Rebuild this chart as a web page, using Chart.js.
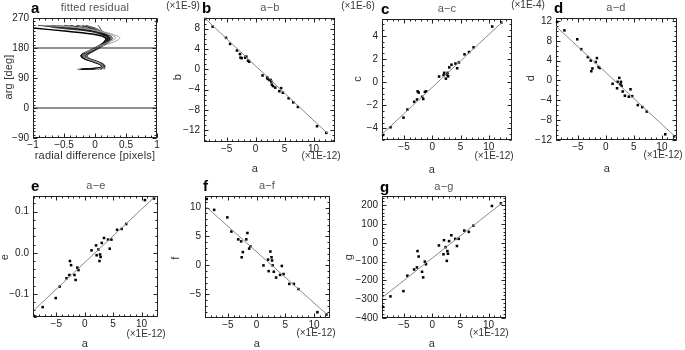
<!DOCTYPE html>
<html>
<head>
<meta charset="utf-8">
<script src="https://cdn.jsdelivr.net/npm/chart.js@4"></script>
<style>
  html, body { margin: 0; padding: 0; background: #fff; }
  #figure { position: relative; width: 685px; height: 350px; overflow: hidden;
    font-family: "Liberation Sans", Arial, sans-serif; color: #333; }
  #figure canvas { position: absolute; z-index: 1; }
  .lbl { position: absolute; z-index: 2; white-space: nowrap; line-height: 1;
    font-size: 11px; letter-spacing: 0.2px; transform: translate(-50%, -50%); }
  .title { color: #555; }
  .rot { transform: translate(-50%, -50%) rotate(-90deg); }
  .mult { font-size: 10px; letter-spacing: 0; }
  .letter { position: absolute; z-index: 2; line-height: 1; font-size: 15px;
    font-weight: bold; color: #000; transform: translateY(-50%); }
</style>
</head>
<body>
<div id="figure">
  <div class="letter" style="left:31px; top:7px">a</div>
  <div class="lbl title" style="left:95px; top:7px">fitted residual</div>
  <div class="lbl rot" style="left:8px; top:77px">arg [deg]</div>
  <div class="lbl" style="left:95px; top:155px">radial difference [pixels]</div>

  <div class="letter" style="left:202px; top:7px">b</div>
  <div class="lbl title" style="left:270px; top:7px">a−b</div>
  <div class="lbl mult" style="left:183px; top:6px">(×1E-9)</div>
  <div class="lbl rot" style="left:177px; top:77px">b</div>
  <div class="lbl" style="left:255px; top:168px">a</div>
  <div class="lbl mult" style="left:321px; top:156px">(×1E-12)</div>

  <div class="letter" style="left:381px; top:8px">c</div>
  <div class="lbl title" style="left:447px; top:8px">a−c</div>
  <div class="lbl mult" style="left:358px; top:6px">(×1E-6)</div>
  <div class="lbl rot" style="left:357px; top:79px">c</div>
  <div class="lbl" style="left:432px; top:169px">a</div>
  <div class="lbl mult" style="left:494px; top:156px">(×1E-12)</div>

  <div class="letter" style="left:554px; top:7px">d</div>
  <div class="lbl title" style="left:616px; top:7px">a−d</div>
  <div class="lbl mult" style="left:528px; top:5px">(×1E-4)</div>
  <div class="lbl rot" style="left:530px; top:78px">d</div>
  <div class="lbl" style="left:607px; top:168px">a</div>
  <div class="lbl mult" style="left:663px; top:155px">(×1E-12)</div>

  <div class="letter" style="left:31px; top:185px">e</div>
  <div class="lbl title" style="left:96px; top:185px">a−e</div>
  <div class="lbl rot" style="left:4px; top:257px">e</div>
  <div class="lbl" style="left:85px; top:343px">a</div>
  <div class="lbl mult" style="left:146px; top:334px">(×1E-12)</div>

  <div class="letter" style="left:203px; top:185px">f</div>
  <div class="lbl title" style="left:267px; top:185px">a−f</div>
  <div class="lbl rot" style="left:175px; top:258px">f</div>
  <div class="lbl" style="left:257px; top:343px">a</div>
  <div class="lbl mult" style="left:316px; top:333px">(×1E-12)</div>

  <div class="letter" style="left:380px; top:186px">g</div>
  <div class="lbl title" style="left:444px; top:186px">a−g</div>
  <div class="lbl rot" style="left:348px; top:257px">g</div>
  <div class="lbl" style="left:432px; top:343px">a</div>
  <div class="lbl mult" style="left:489px; top:333px">(×1E-12)</div>
</div>

<script>
//
// Data
//

// panel a: residual curves, radial difference sampled at fixed args
const ARG_LEVELS = [248, 240, 230, 220, 210, 198, 185, 170, 158, 150, 140, 130, 122, 116];
const RESIDUAL_CURVES = [
  [-0.92, -0.5, -0.05, 0.12, 0.2, 0.16, 0.06, -0.1, -0.2, -0.18, -0.04, 0.1, 0.12, -0.28],
  [-0.7, -0.3, 0.02, 0.15, 0.22, 0.18, 0.08, -0.08, -0.18, -0.16, -0.02, 0.12, 0.13, -0.15],
  [-0.5, -0.15, 0.05, 0.17, 0.24, 0.2, 0.1, -0.06, -0.16, -0.14, 0.0, 0.13, 0.14, -0.02],
  [-0.3, -0.05, 0.08, 0.19, 0.26, 0.21, 0.11, -0.04, -0.14, -0.12, 0.02, 0.14, 0.15, 0.08],
  [-0.85, -0.6, -0.1, 0.1, 0.18, 0.14, 0.04, -0.12, -0.23, -0.2, -0.06, 0.08, 0.1, -0.2],
  [-0.6, -0.35, -0.02, 0.13, 0.21, 0.17, 0.07, -0.09, -0.21, -0.19, -0.05, 0.09, 0.11, -0.1],
  [-0.15, 0.0, 0.1, 0.16, 0.2, 0.15, 0.05, -0.1, -0.19, -0.15, -0.02, 0.11, 0.12, 0.05],
  [0.05, 0.08, 0.12, 0.22, 0.28, 0.23, 0.12, -0.02, -0.12, -0.1, 0.04, 0.15, 0.16, 0.15],
  [-0.78, -0.45, 0.0, 0.14, 0.21, 0.17, 0.06, -0.1, -0.2, -0.17, -0.03, 0.1, 0.12, -0.24],
  [-0.4, -0.2, 0.04, 0.15, 0.23, 0.19, 0.09, -0.07, -0.17, -0.15, -0.01, 0.12, 0.13, -0.06],
  [-0.2, -0.08, 0.06, 0.16, 0.24, 0.2, 0.1, -0.05, -0.15, -0.13, 0.01, 0.13, 0.14, 0.1],
];
const RESIDUAL_LONG_CURVE = [null, -1.0, -0.45, 0.02, 0.17, 0.15, 0.05, -0.11, -0.22, -0.19, -0.05, 0.09, 0.11, -0.22];
const RESIDUAL_GRAY_CURVES = [
  [-0.6, -0.25, 0.1, 0.3, 0.4, 0.3, 0.1, -0.08, -0.17, -0.14, 0.0, 0.12, 0.13, 0.12],
  [-0.85, -0.2, 0.05, 0.25, 0.33, 0.22, 0.05, -0.12, -0.2, -0.16, -0.02, 0.1, 0.12, 0.0],
];
const REFERENCE_ARGS = [0, 180];
const RADIAL_RANGE = [-1, 1];
const RADIAL_TICKS = [-1, -0.5, 0, 0.5, 1];
const ARG_TICKS = [-90, 0, 90, 180, 270];

// panels b-g: parameter a (x1E-12) against the others
const A_VALUES = [-8.7, -7.4, -5.1, -4.4, -3.2, -2.7, -2.6, -2.4, -1.8, -1.6, -1.3, -1.1,
  1.2, 2.0, 2.1, 2.4, 2.6, 2.7, 2.8, 3.0, 3.4, 4.1, 4.4, 4.7, 5.7, 6.5, 7.3, 10.6, 12.2];
const B_VALUES = [9.9, 8.4, 6.2, 5.0, 3.7, 3.0, 2.3, 2.2, 2.3, 2.5, 1.7, 1.5,
  -1.2, -1.6, -1.9, -2.1, -2.1, -2.4, -3.0, -3.3, -3.6, -4.3, -3.7, -4.6, -5.7, -6.5, -7.4, -11.2, -12.5];
const C_VALUES = [-4.56, -3.9, -3.07, -2.37, -1.7, -1.5, -0.8, -0.9, -1.27, -1.46, -0.85, -0.8,
  0.48, 0.6, 0.8, 0.3, 0.65, 0.8, 0.5, 1.27, 1.5, 1.6, 1.2, 1.7, 2.4, 2.6, 3.0, 4.8, 5.15];
const D_VALUES = [11.8, 10.1, 8.3, 6.3, 4.7, 4.0, 1.85, 2.4, 3.7, 4.5, 2.7, 2.5,
  -0.7, -1.6, -0.3, 0.5, -0.8, -0.3, -1.1, -2.25, -3.1, -3.3, -1.8, -3.2, -5.0, -5.4, -6.3, -10.9, -11.3];
const E_VALUES = [-0.155, -0.132, -0.11, -0.082, -0.062, -0.054, -0.02, -0.03, -0.054, -0.066, -0.036, -0.042,
  0.006, 0.018, -0.006, 0.008, -0.02, -0.004, -0.01, 0.024, 0.036, 0.032, 0.01, 0.032, 0.056, 0.058, 0.07, 0.128, 0.132];
const F_VALUES = [11.5, 9.6, 8.3, 5.85, 4.5, 4.15, 1.4, 2.3, 4.5, 5.6, 2.9, 3.3,
  0.0, 1.0, -1.0, 2.4, 1.4, 0.85, 0.0, -1.1, -2.1, -1.65, -0.1, -1.5, -3.2, -3.2, -4.1, -8.1, -8.5];
const G_VALUES = [-341, -285, -257, -175, -142, -131, -44, -73, -154, -184, -100, -114,
  -14, -61, 14, -23, -96, -44, -58, 9, 40, 21, -17, 21, 65, 58, 91, 196, 210];

// fitted lines: values at both ends of FIT_A
const FIT_A = [-8.9, 12.4];
const B_FIT = [10.2, -12.6];
const C_FIT = [-4.5, 5.2];
const D_FIT = [10.9, -11.4];
const E_FIT = [-0.139, 0.137];
const F_FIT = [10.2, -8.6];
const G_FIT = [-292, 212];

const A_TICKS = [-5, 0, 5, 10];
const B_TICKS = [-12, -8, -4, 0, 4, 8];
const C_TICKS = [-4, -2, 0, 2, 4];
const D_TICKS = [-12, -8, -4, 0, 4, 8, 12];
const E_TICKS = [-0.1, 0, 0.1];
const F_TICKS = [-5, 0, 5, 10];
const G_TICKS = [-400, -300, -200, -100, 0, 100, 200];

//
// Layout / style
//

const FONT = '"Liberation Sans", Arial, sans-serif';
const Y_AXIS_WIDTH = 32;
const X_AXIS_HEIGHT = 16;
const PAD = 8;
const FRAME_COLOR = "#222";

// chart area boxes [left, top, right, bottom] in page pixels
const PANEL_LAYOUT = {
  a: { area: [33, 16, 157, 138], x: RADIAL_RANGE, y: [-90, 270], xMinor: 0.1, yMinor: 10 },
  b: { area: [204, 16, 335, 142], x: [-8.9, 13.7], y: [-14.3, 10.1], xMinor: 1, yMinor: 1 },
  c: { area: [382, 17, 512, 140], x: [-8.9, 14.1], y: [-5.0, 5.45], xMinor: 1, yMinor: 0.5 },
  d: { area: [556, 16, 677, 140], x: [-8.9, 12.7], y: [-12.05, 12.6], xMinor: 1, yMinor: 1 },
  e: { area: [33, 194, 158, 317], x: [-9.1, 12.9], y: [-0.156, 0.138], xMinor: 1, yMinor: 0.02 },
  f: { area: [205, 194, 330, 318], x: [-9.0, 12.8], y: [-9.1, 12.0], xMinor: 1, yMinor: 1 },
  g: { area: [382, 194, 506, 318], x: [-8.9, 13.1], y: [-400, 249], xMinor: 1, yMinor: 20 },
};

function formatTick(value, decimals) {
  const abs = Math.abs(value);
  const text = decimals ? abs.toFixed(decimals) : String(abs);
  return (value < -1e-12 ? "\u2212" : "") + text;
}

function minorValues(scale, step) {
  const values = [];
  if (!step) return values;
  for (let k = Math.ceil(scale.min / step - 1e-9); k * step <= scale.max + 1e-9; k++) {
    values.push(k * step);
  }
  return values;
}

// box round the plot with inward major/minor ticks on all four sides,
// drawn under the datasets so points on the edge stay visible
const frameTicksPlugin = {
  id: "frameTicks",
  beforeDatasetsDraw(chart, args, opts) {
    const { ctx, chartArea, scales } = chart;
    const left = Math.round(chartArea.left) + 0.5;
    const right = Math.round(chartArea.right) - 0.5;
    const top = Math.round(chartArea.top) + 0.5;
    const bottom = Math.round(chartArea.bottom) - 0.5;

    const drawX = (v, len) => {
      const px = Math.round(scales.x.getPixelForValue(v)) + 0.5;
      ctx.moveTo(px, bottom);
      ctx.lineTo(px, bottom - len);
      ctx.moveTo(px, top);
      ctx.lineTo(px, top + len);
    };
    const drawY = (v, len) => {
      const py = Math.round(scales.y.getPixelForValue(v)) + 0.5;
      ctx.moveTo(left, py);
      ctx.lineTo(left + len, py);
      ctx.moveTo(right, py);
      ctx.lineTo(right - len, py);
    };

    ctx.save();
    ctx.strokeStyle = FRAME_COLOR;
    ctx.lineWidth = 1;
    ctx.strokeRect(left, top, right - left, bottom - top);
    ctx.beginPath();
    scales.x.ticks.forEach((t) => drawX(t.value, 4));
    scales.y.ticks.forEach((t) => drawY(t.value, 4));
    minorValues(scales.x, opts.xMinor).forEach((v) => drawX(v, 2));
    minorValues(scales.y, opts.yMinor).forEach((v) => drawY(v, 2));
    ctx.stroke();
    ctx.restore();
  },
};
Chart.register(frameTicksPlugin);

function addCanvas(area) {
  const [l, t, r, b] = area;
  const canvas = document.createElement("canvas");
  canvas.width = r - l + Y_AXIS_WIDTH + PAD;
  canvas.height = b - t + PAD + X_AXIS_HEIGHT;
  canvas.style.left = l - Y_AXIS_WIDTH + "px";
  canvas.style.top = t - PAD + "px";
  document.getElementById("figure").appendChild(canvas);
  return canvas;
}

function makeAxis(range, tickValues, decimals, isX) {
  return {
    type: "linear",
    min: range[0],
    max: range[1],
    grid: { display: false, drawTicks: false },
    border: { display: false },
    ticks: {
      padding: isX ? 1 : 4,
      color: "#222",
      font: { family: FONT, size: 10 },
      callback: (value) => formatTick(value, decimals),
    },
    afterBuildTicks: (scale) => {
      scale.ticks = tickValues.map((v) => ({ value: v }));
    },
    afterFit: (scale) => {
      if (isX) scale.height = X_AXIS_HEIGHT;
      else scale.width = Y_AXIS_WIDTH;
    },
  };
}

function createPanel(key, datasets, xTicks, yTicks, xDecimals, yDecimals) {
  const layout = PANEL_LAYOUT[key];
  const canvas = addCanvas(layout.area);
  new Chart(canvas.getContext("2d"), {
    type: "scatter",
    data: { datasets: datasets },
    options: {
      responsive: false,
      animation: false,
      layout: { padding: { top: PAD, right: PAD, left: 0, bottom: 0 } },
      plugins: {
        legend: { display: false },
        tooltip: { enabled: false },
        frameTicks: { xMinor: layout.xMinor, yMinor: layout.yMinor },
      },
      scales: {
        x: makeAxis(layout.x, xTicks, xDecimals, true),
        y: makeAxis(layout.y, yTicks, yDecimals, false),
      },
    },
  });
}

//
// Panels
//

function curveDataset(xs, color, width) {
  const points = [];
  ARG_LEVELS.forEach((arg, i) => {
    if (xs[i] !== null) points.push({ x: xs[i], y: arg });
  });
  return {
    data: points,
    showLine: true,
    tension: 0.4,
    borderColor: color,
    borderWidth: width,
    pointRadius: 0,
  };
}

function createResidualPanel() {
  const datasets = REFERENCE_ARGS.map((arg) => ({
    data: RADIAL_RANGE.map((x) => ({ x: x, y: arg })),
    showLine: true,
    borderColor: "#222",
    borderWidth: 1,
    pointRadius: 0,
  }));
  RESIDUAL_GRAY_CURVES.forEach((xs) => datasets.push(curveDataset(xs, "#9a9a9a", 1)));
  RESIDUAL_CURVES.forEach((xs) => datasets.push(curveDataset(xs, "#111", 0.8)));
  datasets.push(curveDataset(RESIDUAL_LONG_CURVE, "#000", 1.5));

  createPanel("a", datasets, RADIAL_TICKS, ARG_TICKS, 0, 0);
}

function createCorrelationPanel(key, values, fit, yTicks, yDecimals) {
  const datasets = [
    {
      data: FIT_A.map((a, i) => ({ x: a, y: fit[i] })),
      showLine: true,
      borderColor: "#8a8a8a",
      borderWidth: 1,
      pointRadius: 0,
    },
    {
      data: A_VALUES.map((a, i) => ({ x: a, y: values[i] })),
      pointStyle: "rect",
      pointRadius: 1.8,
      backgroundColor: "#000",
      borderColor: "#000",
      borderWidth: 0,
      clip: false,
    },
  ];
  createPanel(key, datasets, A_TICKS, yTicks, 0, yDecimals);
}

createResidualPanel();
createCorrelationPanel("b", B_VALUES, B_FIT, B_TICKS, 0);
createCorrelationPanel("c", C_VALUES, C_FIT, C_TICKS, 0);
createCorrelationPanel("d", D_VALUES, D_FIT, D_TICKS, 0);
createCorrelationPanel("e", E_VALUES, E_FIT, E_TICKS, 1);
createCorrelationPanel("f", F_VALUES, F_FIT, F_TICKS, 0);
createCorrelationPanel("g", G_VALUES, G_FIT, G_TICKS, 0);
</script>
</body>
</html>
